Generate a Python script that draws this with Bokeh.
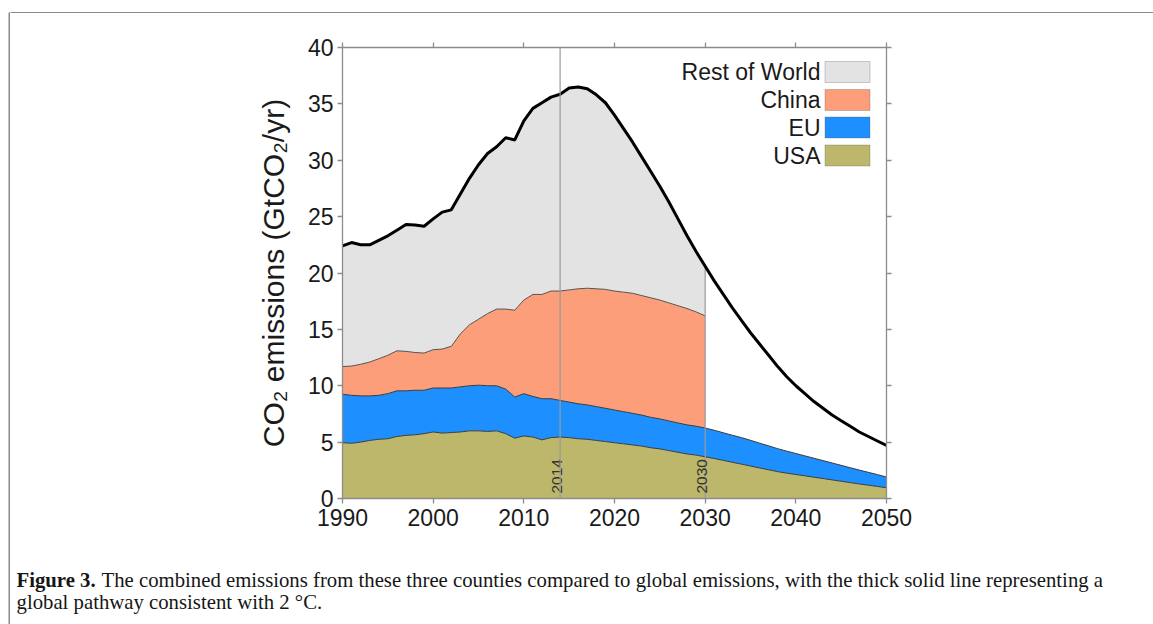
import math
from bokeh.plotting import figure
from bokeh.layouts import row, column
from bokeh.models import (Label, BoxAnnotation, Span, LinearAxis, FixedTicker,
                          ColumnDataSource, Range1d)
from bokeh.transform import stack
from bokeh.core.properties import value
from bokeh.embed import file_html
from bokeh.resources import INLINE

# ---------------- data ----------------
years = list(range(1990, 2051))
usa = [4.95, 4.90, 5.00, 5.15, 5.25, 5.30, 5.50, 5.60, 5.65, 5.75,
       5.90, 5.80, 5.85, 5.90, 6.00, 6.00, 5.95, 6.00, 5.75, 5.35,
       5.55, 5.45, 5.20, 5.40, 5.45, 5.40, 5.30, 5.25, 5.15, 5.05,
       4.95, 4.85, 4.75, 4.65, 4.50, 4.40, 4.25, 4.10, 3.95, 3.85,
       3.70, 3.55, 3.38, 3.21, 3.05, 2.88, 2.71, 2.55, 2.38, 2.25,
       2.13, 2.01, 1.89, 1.77, 1.65, 1.53, 1.41, 1.29, 1.18, 1.07, 0.95]
eu = [4.30, 4.25, 4.10, 3.95, 3.90, 4.00, 4.05, 3.95, 3.95, 3.85,
      3.90, 4.00, 3.95, 4.00, 4.00, 4.05, 4.05, 4.00, 3.95, 3.65,
      3.75, 3.60, 3.65, 3.45, 3.25, 3.15, 3.10, 3.05, 3.00, 2.95,
      2.90, 2.85, 2.80, 2.75, 2.70, 2.66, 2.63, 2.60, 2.58, 2.56,
      2.55, 2.50, 2.45, 2.40, 2.35, 2.28, 2.20, 2.12, 2.04, 1.95,
      1.86, 1.77, 1.68, 1.59, 1.50, 1.41, 1.32, 1.23, 1.14, 1.05, 0.95]
# China only shown 1990-2030
china = [2.45, 2.60, 2.80, 3.00, 3.25, 3.40, 3.55, 3.50, 3.35, 3.30,
         3.40, 3.45, 3.70, 4.70, 5.40, 5.85, 6.40, 6.80, 7.10, 7.70,
         8.30, 9.05, 9.25, 9.55, 9.70, 9.95, 10.20, 10.35, 10.45, 10.55,
         10.55, 10.60, 10.65, 10.60, 10.60, 10.54, 10.47, 10.40, 10.32, 10.14,
         9.95]
# global total / 2 degree pathway
global_total = [22.4, 22.7, 22.5, 22.5, 22.9, 23.3, 23.8, 24.3, 24.25, 24.15,
                24.8, 25.4, 25.6, 27.0, 28.4, 29.6, 30.6, 31.2, 32.0, 31.8,
                33.5, 34.6, 35.1, 35.6, 35.85, 36.4, 36.5, 36.35, 35.8, 35.1,
                34.0, 32.8, 31.6, 30.3, 29.0, 27.7, 26.3, 24.8, 23.3, 21.9,
                20.6, 19.3, 18.1, 16.9, 15.8, 14.7, 13.7, 12.7, 11.7, 10.8,
                10.0, 9.3, 8.6, 8.0, 7.4, 6.9, 6.4, 5.9, 5.5, 5.1, 4.7]
marker_years = [2014, 2030]
legend_labels = ["Rest of World", "China", "EU", "USA"]
legend_colors = ["#e3e3e3", "#fc9e79", "#1e8fff", "#bdb76c"]
x_ticks = [1990, 2000, 2010, 2020, 2030, 2040, 2050]
y_ticks = [0, 5, 10, 15, 20, 25, 30, 35, 40]
y_label = "CO\u2082 emissions (GtCO\u2082/yr)"
caption_bold = "Figure 3."
caption_line1 = ("The combined emissions from these three counties compared to global "
                 "emissions, with the thick solid line representing a")
caption_line2 = "global pathway consistent with 2 \u00b0C."

ROW_C, CHINA_C, EU_C, USA_C = legend_colors

n_hist = len(china)
src_full = ColumnDataSource(dict(year=years, usa=usa, eu=eu, total=global_total))
src_hist = ColumnDataSource(dict(year=years[:n_hist], usa=usa[:n_hist], eu=eu[:n_hist],
                                 china=china, total=global_total[:n_hist]))

SANS = "Liberation Sans"
SERIF = "Liberation Serif"
AXIS_C = "#8c8c8c"
FRAME_C = "#8a8a8a"
TEXT_C = "#1a1a1a"

W, H = 1153, 624
LEFT_W = 10       # left strip holding the page frame's left edge
TOP_H = 13        # top strip holding the page frame's top edge
MAIN_H = 532
CAP_H = H - TOP_H - MAIN_H
RIGHT_W = W - LEFT_W


def no_align(f):
    try:
        f.frame_align = False
    except Exception:
        pass


def blank(width, height, xr, yr):
    f = figure(width=width, height=height, x_range=Range1d(*xr), y_range=Range1d(*yr),
               x_axis_type=None, y_axis_type=None, output_backend="svg",
               toolbar_location=None)
    f.min_border = 0
    f.grid.visible = False
    f.outline_line_color = None
    f.background_fill_color = "white"
    f.border_fill_color = "white"
    no_align(f)
    return f


# page frame: left strip + top strip (pixel coordinates of the page)
left_strip = blank(LEFT_W, H, (0, LEFT_W), (H, 0))
left_strip.segment(x0=[8.75], y0=[12.25], x1=[8.75], y1=[H], line_color=FRAME_C,
                   line_width=1.5)
left_strip.segment(x0=[8.75], y0=[12.25], x1=[LEFT_W], y1=[12.25], line_color=FRAME_C,
                   line_width=1.5)
top_strip = blank(RIGHT_W, TOP_H, (LEFT_W, W), (TOP_H, 0))
top_strip.segment(x0=[LEFT_W], y0=[12.25], x1=[W], y1=[12.25], line_color=FRAME_C,
                  line_width=1.5)

# ---------------- main chart ----------------
p = figure(width=RIGHT_W, height=MAIN_H, x_range=Range1d(1990, 2050),
           y_range=Range1d(0, 40), output_backend="svg", toolbar_location=None)
no_align(p)
p.min_border_left = 342 - LEFT_W
p.min_border_right = RIGHT_W - (342 - LEFT_W) - 544
p.min_border_top = 47 - TOP_H
p.min_border_bottom = MAIN_H - (47 - TOP_H) - 451
p.grid.visible = False
p.outline_line_color = None
p.background_fill_color = "white"
p.border_fill_color = "white"

bottom_ax = p.below[0]
left_ax = p.left[0]
top_ax = LinearAxis()
right_ax = LinearAxis()
p.add_layout(top_ax, "above")
p.add_layout(right_ax, "right")

for ax, ticks, labels in [(bottom_ax, x_ticks, True), (left_ax, y_ticks, True),
                          (top_ax, x_ticks, False), (right_ax, y_ticks, False)]:
    ax.ticker = FixedTicker(ticks=ticks)
    ax.axis_line_color = AXIS_C
    ax.axis_line_width = 1.3
    ax.major_tick_line_color = AXIS_C
    ax.major_tick_line_width = 1.3
    ax.major_tick_out = 5
    ax.major_tick_in = 0
    ax.minor_tick_line_color = None
    ax.major_label_text_font = SANS
    ax.major_label_text_font_size = "23px"
    ax.major_label_text_color = TEXT_C
    if not labels:
        ax.major_label_overrides = {t: "" for t in ticks}

bottom_ax.major_label_standoff = 5
left_ax.major_label_standoff = 4
left_ax.axis_label = y_label
left_ax.axis_label_text_font = SANS
left_ax.axis_label_text_font_size = "30px"
left_ax.axis_label_text_font_style = "normal"
left_ax.axis_label_text_color = TEXT_C
left_ax.axis_label_standoff = 15

# stacked areas
p.varea(x="year", y1=stack("usa", "eu", "china"), y2="total", source=src_hist,
        fill_color=ROW_C)
p.varea(x="year", y1=stack("usa", "eu"), y2=stack("usa", "eu", "china"), source=src_hist,
        fill_color=CHINA_C)
p.varea_stack(["usa", "eu"], x="year", source=src_full, fill_color=[USA_C, EU_C])

OUT_C = "#3c3c3c"
p.line(x="year", y=stack("usa"), source=src_full, line_color=OUT_C, line_width=1)
p.line(x="year", y=stack("usa", "eu"), source=src_full, line_color=OUT_C, line_width=1)
p.line(x="year", y=stack("usa", "eu", "china"), source=src_hist, line_color="#555555",
       line_width=1)

# marker lines
VL_C = "#9a9a9a"
p.add_layout(Span(location=marker_years[0], dimension="height", line_color=VL_C,
                  line_width=1.2))
i_end = years.index(marker_years[1])
p.segment(x0=[marker_years[1]], y0=[0], x1=[marker_years[1]], y1=[global_total[i_end]],
          line_color=VL_C, line_width=1.2)

p.text(x=marker_years, y=[0, 0], text=[str(y) for y in marker_years], angle=math.pi / 2,
       text_align="left", text_baseline="alphabetic", x_offset=-3, y_offset=-5,
       text_font=value(SANS), text_font_size="15.5px", text_color="#333333")

# global pathway
p.line(x="year", y="total", source=src_full, line_color="black", line_width=3)

# legend: labels to the left of the swatches (canvas px of this figure)
row_tops = [61 - TOP_H, 89 - TOP_H, 116.5 - TOP_H, 144.5 - TOP_H]
for lab, col, top in zip(legend_labels, legend_colors, row_tops):
    p.add_layout(BoxAnnotation(left=824.5 - LEFT_W, right=869.5 - LEFT_W, top=top,
                               bottom=top + 21,
                               left_units="canvas", right_units="canvas",
                               top_units="canvas", bottom_units="canvas",
                               fill_color=col, fill_alpha=1, line_color="#555555",
                               line_width=1))
    p.add_layout(Label(x=820 - LEFT_W, y=top + 10.5, x_units="canvas", y_units="canvas",
                       text=lab, text_align="right", text_baseline="middle",
                       text_font=SANS, text_font_size="23px", text_color=TEXT_C))

# ---------------- caption ----------------
cap = blank(RIGHT_W, CAP_H, (LEFT_W, W), (H, TOP_H + MAIN_H))
CAP_FS = "20.75px"
CAP_C = "#161616"
cap.add_layout(Label(x=16, y=579, text=caption_bold, text_align="left",
                     text_baseline="alphabetic", text_font=SERIF, text_font_style="bold",
                     text_font_size=CAP_FS, text_color=CAP_C))
cap.add_layout(Label(x=101, y=579, text=caption_line1, text_align="left",
                     text_baseline="alphabetic", text_font=SERIF,
                     text_font_size=CAP_FS, text_color=CAP_C))
cap.add_layout(Label(x=16, y=601, text=caption_line2, text_align="left",
                     text_baseline="alphabetic", text_font=SERIF,
                     text_font_size=CAP_FS, text_color=CAP_C))

layout = row(left_strip, column(top_strip, p, cap))
open("out.html", "w").write(file_html(layout, INLINE))
